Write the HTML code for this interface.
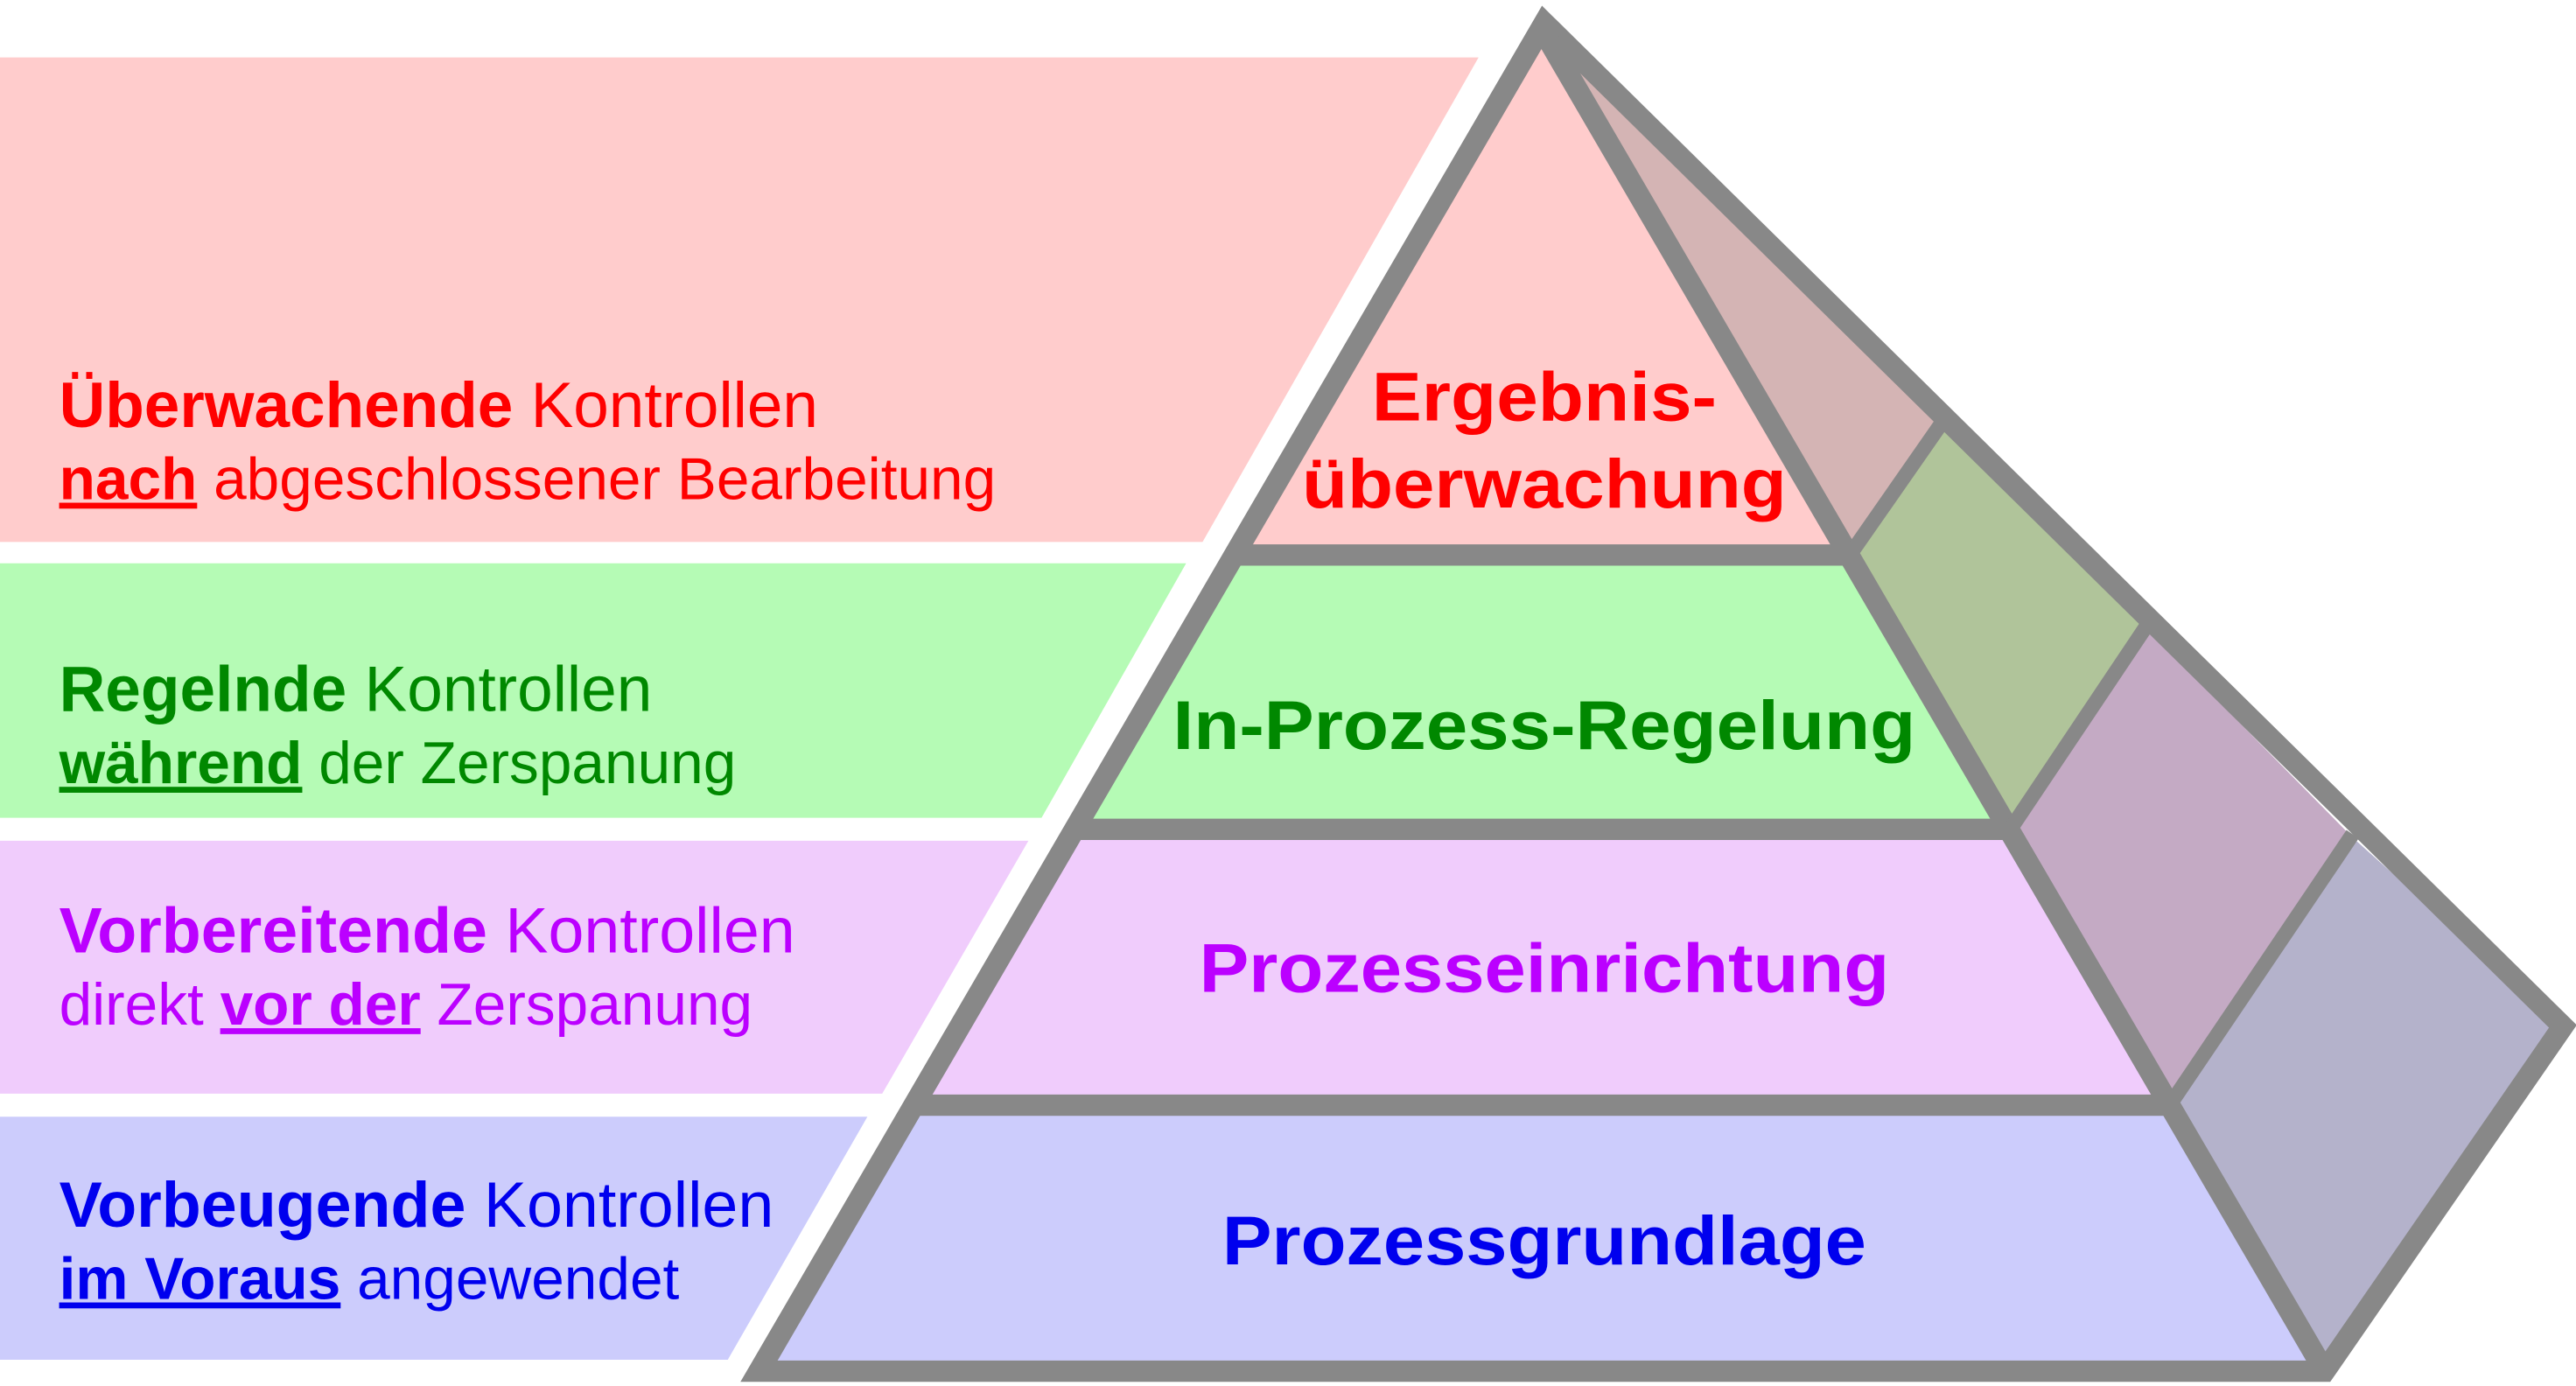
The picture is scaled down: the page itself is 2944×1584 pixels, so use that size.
<!DOCTYPE html>
<html><head><meta charset="utf-8"><style>html,body{margin:0;padding:0;background:#fff;}svg{display:block}</style></head>
<body>
<svg width="2944" height="1584" viewBox="0 0 1568 844" preserveAspectRatio="none" xmlns="http://www.w3.org/2000/svg" font-family="Liberation Sans, Arial, sans-serif">
<!-- left panels -->
<polygon points="0,35 900,35 732,330 0,330" fill="#ffcccc"/>
<polygon points="0,343 722,343 634,498 0,498" fill="#b5fbb5"/>
<polygon points="0,512 626,512 537,666 0,666" fill="#f0ccfc"/>
<polygon points="0,680 528,680 443,828 0,828" fill="#ccccfc"/>
<!-- side face bands -->
<polygon points="940,15 1183,258 1128,338 940,20" fill="#d4b4b4"/>
<polygon points="1183,258 1306,382 1225,505 1128,338" fill="#b0c49a"/>
<polygon points="1306,382 1432,510 1322,673 1225,505" fill="#c4aac4"/>
<polygon points="1432,510 1560,625 1415,835 1322,673" fill="#b4b2cb"/>
<!-- front bands -->
<polygon points="940,20 1127,338 753,338" fill="#ffcccc"/>
<polygon points="753,338 1127,338 1225,505 655,505" fill="#b5fbb5"/>
<polygon points="655,505 1225,505 1322,673 557,673" fill="#f0ccfc"/>
<polygon points="557,673 1322,673 1415,835 462,835" fill="#ccccfc"/>
<!-- outlines -->
<g stroke="#888" stroke-width="13" fill="none" stroke-linejoin="miter">
<polygon points="940,14 1560,625 1415,835 462,835"/>
<line x1="940" y1="20" x2="1415" y2="835"/>
<line x1="753" y1="338" x2="1127" y2="338"/>
<line x1="655" y1="505" x2="1225" y2="505"/>
<line x1="557" y1="673" x2="1322" y2="673"/>
</g>
<g stroke="#888" stroke-width="9">
<line x1="1128" y1="335" x2="1183" y2="256"/>
<line x1="1225" y1="503" x2="1306" y2="382"/>
<line x1="1322" y1="671" x2="1432" y2="508"/>
</g>
<!-- left texts -->
<g font-size="36">
<text x="36" y="260" fill="#ff0000" font-size="39" textLength="462" lengthAdjust="spacingAndGlyphs"><tspan font-weight="bold">Überwachende</tspan> Kontrollen</text>
<text x="36" y="304" fill="#ff0000"><tspan font-weight="bold" text-decoration="underline">nach</tspan> abgeschlossener Bearbeitung</text>
<text x="36" y="433" fill="#008800" font-size="39" textLength="361" lengthAdjust="spacingAndGlyphs"><tspan font-weight="bold">Regelnde</tspan> Kontrollen</text>
<text x="36" y="477" fill="#008800"><tspan font-weight="bold" text-decoration="underline">während</tspan> der Zerspanung</text>
<text x="36" y="580" fill="#bb00ff" font-size="39" textLength="448" lengthAdjust="spacingAndGlyphs"><tspan font-weight="bold">Vorbereitende</tspan> Kontrollen</text>
<text x="36" y="624" fill="#bb00ff">direkt <tspan font-weight="bold" text-decoration="underline">vor der</tspan> Zerspanung</text>
<text x="36" y="747" fill="#0000ee" font-size="39" textLength="435" lengthAdjust="spacingAndGlyphs"><tspan font-weight="bold">Vorbeugende</tspan> Kontrollen</text>
<text x="36" y="791" fill="#0000ee"><tspan font-weight="bold" text-decoration="underline">im Voraus</tspan> angewendet</text>
</g>
<!-- center texts -->
<g font-size="42" font-weight="bold" text-anchor="middle">
<text x="940" y="256" fill="#ff0000" textLength="210" lengthAdjust="spacingAndGlyphs">Ergebnis-</text>
<text x="940" y="309" fill="#ff0000" textLength="295" lengthAdjust="spacingAndGlyphs">überwachung</text>
<text x="940" y="456" fill="#008800" textLength="452" lengthAdjust="spacingAndGlyphs">In-Prozess-Regelung</text>
<text x="940" y="604" fill="#bb00ff" textLength="420" lengthAdjust="spacingAndGlyphs">Prozesseinrichtung</text>
<text x="940" y="770" fill="#0000ee" textLength="392" lengthAdjust="spacingAndGlyphs">Prozessgrundlage</text>
</g>
</svg>
</body></html>
